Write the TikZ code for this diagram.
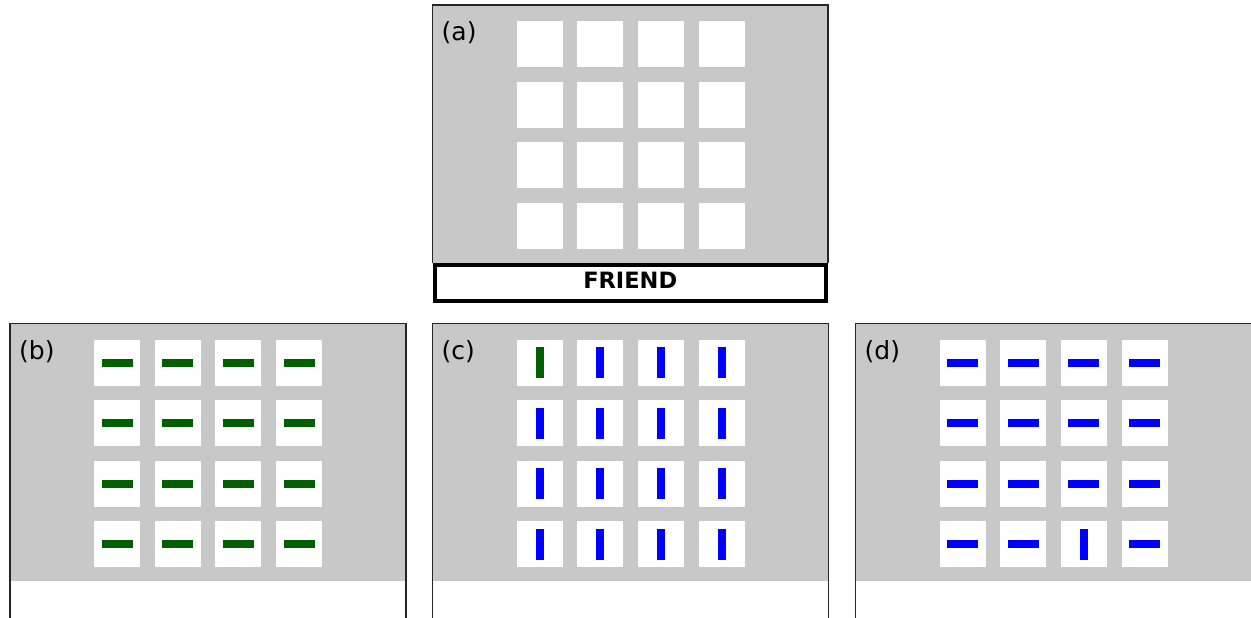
\documentclass[tikz,border=0pt]{standalone}
\usepackage{fontspec}
\setmainfont{DejaVu Sans}
\definecolor{panelgray}{RGB}{200,200,200}
\definecolor{bargreen}{RGB}{0,95,0}
\definecolor{barblue}{RGB}{0,0,255}
\tikzset{
  panelbg/.style={fill=panelgray},
  frameline/.style={draw=black!85, line width=1.2pt},
  friendbox/.style={draw=black, fill=white, line width=4pt},
  cellbox/.style={fill=white},
  greenbar/.style={fill=bargreen},
  bluebar/.style={fill=barblue},
  panellabel/.style={anchor=base west, inner sep=0pt, font=\fontsize{25}{29}\selectfont},
  friendtext/.style={anchor=base, inner sep=0pt, font=\bfseries\fontsize{22.5}{27}\selectfont}
}
% cells of a panel: #1 left, #2 top
\newcommand\cellsgrid[2]{%
  \foreach \i in {0,...,3}{\foreach \j in {0,...,3}{
    \fill[cellbox] ({#1+84+60.7*\i},{#2+16+60.6*\j}) rectangle ++(46,46);}}}
% bars: #1 left, #2 top, #3 column, #4 row, #5 style
\newcommand\hbarat[5]{%
  \fill[#5] ({#1+107+60.7*#3-15.5},{#2+39+60.6*#4-4}) rectangle ++(31,8);}
\newcommand\vbarat[5]{%
  \fill[#5] ({#1+107+60.7*#3-4},{#2+39+60.6*#4-15.5}) rectangle ++(8,31);}
\begin{document}
\begin{tikzpicture}[x=1pt,y=-1pt]
\useasboundingbox (0,0) rectangle (1251,618);
% ---------- panel (a) ----------
\fill[panelbg] (432.5,5) rectangle (828,263);
\draw[frameline] (432.5,263) -- (432.5,5) -- (828,5) -- (828,263);
\cellsgrid{432.5}{5}
\node[panellabel] (la) at (441.5,40.5) {(a)};
\draw[friendbox] (434.5,265.2) rectangle (826,300.5);
\node[friendtext] (friend) at (630.25,288.8) {FRIEND};
% ---------- panels (b),(c),(d) backgrounds ----------
\foreach \L in {10,432.5,855.5}{
  \fill[panelbg] (\L,323.5) rectangle ({\L+396},581);
  \draw[frameline] (\L,620) -- (\L,323.5) -- ({\L+396},323.5) -- ({\L+396},620);
  \cellsgrid{\L}{323.5}
}
% ---------- panel (b) ----------
\node[panellabel] (lb) at (19,359) {(b)};
\foreach \i in {0,...,3}{\foreach \j in {0,...,3}{\hbarat{10}{323.5}{\i}{\j}{greenbar}}}
% ---------- panel (c) ----------
\node[panellabel] (lc) at (441.5,359) {(c)};
\foreach \i/\j in {1/0,2/0,3/0,0/1,1/1,2/1,3/1,0/2,1/2,2/2,3/2,0/3,1/3,2/3,3/3}{\vbarat{432.5}{323.5}{\i}{\j}{bluebar}}
\vbarat{432.5}{323.5}{0}{0}{greenbar}
% ---------- panel (d) ----------
\node[panellabel] (ld) at (864.5,359) {(d)};
\foreach \i/\j in {0/0,1/0,2/0,3/0,0/1,1/1,2/1,3/1,0/2,1/2,2/2,3/2,0/3,1/3,3/3}{\hbarat{855.5}{323.5}{\i}{\j}{bluebar}}
\vbarat{855.5}{323.5}{2}{3}{bluebar}
\end{tikzpicture}
\end{document}
